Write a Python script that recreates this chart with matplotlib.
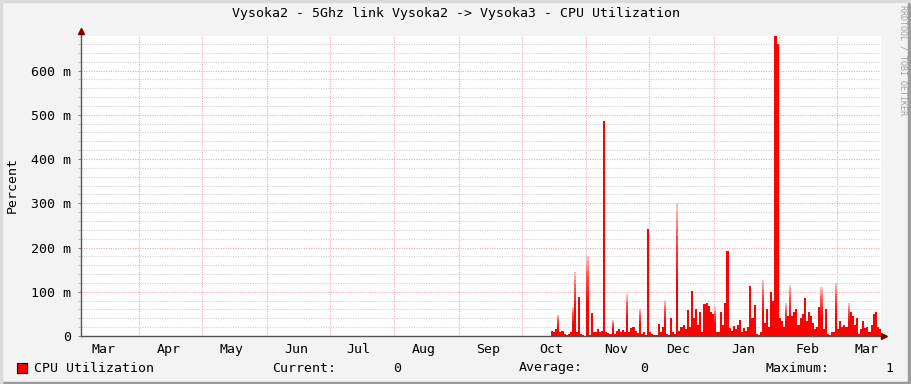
import datetime as dt
import numpy as np
import matplotlib
matplotlib.use("Agg")
import matplotlib.pyplot as plt
import matplotlib.dates as mdates
from matplotlib.colors import LinearSegmentedColormap
from matplotlib.patches import Rectangle
from matplotlib.ticker import MultipleLocator, FuncFormatter

# ---------------- data ----------------
title = "Vysoka2 - 5Ghz link Vysoka2 -> Vysoka3 - CPU Utilization"
y_label = "Percent"
series_name = "CPU Utilization"
x_start = dt.date(2022, 3, 4)
x_end = dt.date(2023, 3, 22)
data_start = dt.date(2022, 10, 15)

# daily CPU utilization in milli-percent (m), starting at data_start
cpu_daily_m = [
    12, 10, 15, 10, 8, 12, 4, 3, 5, 8, 6, 8, 10, 89, 5, 2, 0, 5, 3, 53,
    8, 10, 15, 8, 12, 487, 10, 6, 5, 8, 5, 12, 15, 10, 14, 8, 12, 10, 18, 20,
    12, 6, 10, 5, 8, 3, 242, 8, 4, 2, 3, 28, 10, 20, 15, 5, 3, 40, 8, 5,
    10, 12, 20, 25, 15, 58, 20, 101, 40, 60, 25, 55, 10, 72, 75, 68, 55, 50, 20, 10,
    8, 55, 25, 75, 191, 18, 12, 22, 15, 25, 37, 10, 18, 12, 20, 112, 40, 70, 5, 3,
    8, 15, 30, 60, 20, 100, 80, 678, 660, 40, 35, 20, 30, 45, 30, 45, 55, 60, 25, 40,
    50, 85, 35, 55, 45, 30, 15, 20, 65, 25, 15, 60, 5, 3, 10, 8, 25, 15, 35, 20,
    25, 20, 30, 55, 45, 25, 40, 5, 15, 35, 18, 20, 10, 25, 50, 55, 20, 15, 25,
]
# short-lived peaks (day offset from data_start, peak value in m)
peak_day_offsets = [3, 10, 11, 17, 29, 36, 42, 54, 60, 78, 101, 112, 114, 129, 136, 142]
peak_values_m = [48, 66, 145, 180, 37, 94, 62, 81, 300, 65, 127, 75, 115, 110, 120, 75]

legend_current = "0"
legend_average = "0"
legend_maximum = "1"

# ---------------- figure ----------------
W, H = 911, 384
FONT = "DejaVu Sans Mono"
plt.rcParams["font.family"] = [FONT, "DejaVu Sans"]

fig = plt.figure(figsize=(W / 100, H / 100), dpi=100, facecolor="#F3F3F3")

# border shading like rrdtool
fig.patches.append(Rectangle((0, 0), 1, 2 / H, transform=fig.transFigure,
                             color="#9C9C9C", zorder=0))
fig.patches.append(Rectangle((1 - 3 / W, 0), 3 / W, 1, transform=fig.transFigure,
                             color="#9C9C9C", zorder=0))
fig.patches.append(Rectangle((0, 1 - 2 / H), 1, 2 / H, transform=fig.transFigure,
                             color="#DADADA", zorder=0))
fig.patches.append(Rectangle((0, 0), 2 / W, 1, transform=fig.transFigure,
                             color="#DADADA", zorder=0))

ax = fig.add_axes([81 / W, 48 / H, 800 / W, 300 / H])
ax.set_facecolor("white")

dates = [data_start + dt.timedelta(days=i) for i in range(len(cpu_daily_m))]
xnum = mdates.date2num(dates)
ax.fill_between(xnum, 0, cpu_daily_m, step="post", color="#FF0000",
                linewidth=0, zorder=3)

# peaks drawn with a fading gradient (stacked segments)
grad_cmap = LinearSegmentedColormap.from_list(
    "fade", [(0.0, "#FF0000"), (0.4, "#FF0000"), (0.75, "#FF5050"), (1.0, "#FFC8C8")])
NSEG = 16
for off, val in zip(peak_day_offsets, peak_values_m):
    d0 = mdates.date2num(data_start + dt.timedelta(days=off))
    edges = np.linspace(0, val, NSEG + 1)
    fr = (np.arange(NSEG) + 0.5) / NSEG
    ax.bar([d0] * NSEG, np.diff(edges), bottom=edges[:-1], width=1.0, align="edge",
           color=grad_cmap(fr), linewidth=0, zorder=2)

ax.set_xlim(mdates.date2num(x_start), mdates.date2num(x_end))
ax.set_ylim(0, 678)

# axes formatting
ax.xaxis.set_major_locator(mdates.MonthLocator(bymonthday=15))
ax.xaxis.set_major_formatter(mdates.DateFormatter("%b"))
ax.xaxis.set_minor_locator(mdates.MonthLocator(bymonthday=1))
ax.yaxis.set_major_locator(MultipleLocator(100))
ax.yaxis.set_minor_locator(MultipleLocator(20))
ax.yaxis.set_major_formatter(FuncFormatter(lambda v, p: "0" if v == 0 else f"{int(round(v))} m"))

dot = (0, (1, 1.2))
ax.xaxis.grid(True, which="minor", color="#F0A8A8", linestyle=dot, linewidth=0.8, zorder=1)
ax.xaxis.grid(False, which="major")
ax.yaxis.grid(True, which="major", color="#F0A8A8", linestyle=dot, linewidth=0.8, zorder=1)
ax.yaxis.grid(True, which="minor", color="#D0D0D0", linestyle=dot, linewidth=0.8, zorder=1)
ax.set_axisbelow(True)

ax.tick_params(axis="x", which="major", length=0, pad=5, labelsize=9.5, colors="#000000")
ax.tick_params(axis="x", which="minor", length=0)
ax.tick_params(axis="y", which="major", length=2, pad=5, labelsize=9.5, color="#888888")
ax.tick_params(axis="y", which="minor", length=2, color="#BBBBBB")

for s in ("top", "right"):
    ax.spines[s].set_visible(False)
for s in ("left", "bottom"):
    ax.spines[s].set_color("#555555")
    ax.spines[s].set_linewidth(1)
    ax.spines[s].set_zorder(5)

# arrow heads on axes
ax.plot([0, 0], [1.0, 1.017], color="#555555", lw=1, transform=ax.transAxes, clip_on=False, zorder=6)
ax.plot([0], [1.017], marker="^", markersize=4, color="#800000", transform=ax.transAxes,
        clip_on=False, zorder=7)
ax.plot([1.0, 1.004], [0, 0], color="#555555", lw=1, transform=ax.transAxes, clip_on=False, zorder=6)
ax.plot([1.004], [0], marker=">", markersize=4, color="#800000", transform=ax.transAxes,
        clip_on=False, zorder=7)

# texts
fig.text(455.5 / W, 1 - 14 / H, title, ha="center", va="center", fontsize=9.5, color="#000000")
fig.text(12 / W, 1 - 185 / H, y_label, rotation=90, ha="center", va="center", fontsize=9.5)
fig.text(903 / W, 1 - 5 / H, "RRDTOOL / TOBI OETIKER", rotation=270, ha="center", va="top",
         fontsize=6, color="#A0A0A0")

ly = 1 - 368 / H
fig.patches.append(Rectangle((17 / W, 1 - 373 / H), 10 / W, 10 / H, transform=fig.transFigure,
                             facecolor="#FF0000", edgecolor="#000000", linewidth=0.8, zorder=3))
fig.text(34 / W, ly, series_name, ha="left", va="center", fontsize=9.5)
fig.text(272 / W, ly, "Current:", ha="left", va="center", fontsize=9.5)
fig.text(401 / W, ly, legend_current, ha="right", va="center", fontsize=9.5)
fig.text(519 / W, ly, "Average:", ha="left", va="center", fontsize=9.5)
fig.text(648 / W, ly, legend_average, ha="right", va="center", fontsize=9.5)
fig.text(765 / W, ly, "Maximum:", ha="left", va="center", fontsize=9.5)
fig.text(893 / W, ly, legend_maximum, ha="right", va="center", fontsize=9.5)

fig.savefig("out.png", dpi=100, facecolor=fig.get_facecolor())
